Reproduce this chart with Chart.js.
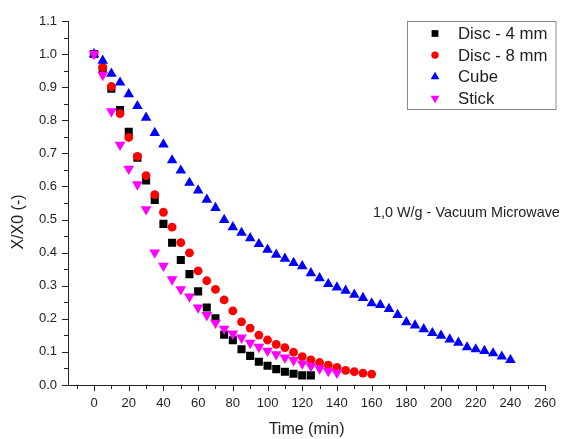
<!DOCTYPE html>
<html>
<head>
<meta charset="utf-8">
<title>X/X0 vs time - vacuum microwave drying</title>
<script src="https://cdn.jsdelivr.net/npm/chart.js@4"></script>
<style>
  html, body { margin: 0; padding: 0; background: #fff; }
  canvas { display: block; }
</style>
</head>
<body>
<canvas id="c" width="567" height="439"></canvas>
<script>
const FONT = '"Liberation Sans", Arial, Helvetica, sans-serif';
const INK = '#222';

// sampling times (min) per sample shape
const tDisc4 = [0, 5, 10, 15, 20, 25, 30, 35, 40, 45, 50, 55, 60, 65, 70, 75, 80, 85, 90, 95, 100, 105, 110, 115, 120, 125];
const tDisc8 = [0, 5, 10, 15, 20, 25, 30, 35, 40, 45, 50, 55, 60, 65, 70, 75, 80, 85, 90, 95, 100, 105, 110, 115, 120, 125, 130, 135, 140, 145, 150, 155, 160];
const tCube = [0, 5, 10, 15, 20, 25, 30, 35, 40, 45, 50, 55, 60, 65, 70, 75, 80, 85, 90, 95, 100, 105, 110, 115, 120, 125, 130, 135, 140, 145, 150, 155, 160, 165, 170, 175, 180, 185, 190, 195, 200, 205, 210, 215, 220, 225, 230, 235, 240];
const tStick = [0, 5, 10, 15, 20, 25, 30, 35, 40, 45, 50, 55, 60, 65, 70, 75, 80, 85, 90, 95, 100, 105, 110, 115, 120, 125, 130, 135, 140];

// moisture ratio X/X0
const xDisc4 = [1.0, 0.955, 0.895, 0.831, 0.765, 0.687, 0.618, 0.559, 0.487, 0.430, 0.378, 0.335, 0.283, 0.234, 0.202, 0.152, 0.135, 0.108, 0.088, 0.070, 0.058, 0.048, 0.040, 0.034, 0.029, 0.029];
const xDisc8 = [1.0, 0.960, 0.902, 0.820, 0.748, 0.691, 0.633, 0.575, 0.522, 0.477, 0.430, 0.399, 0.345, 0.315, 0.289, 0.257, 0.224, 0.191, 0.172, 0.151, 0.136, 0.123, 0.113, 0.099, 0.086, 0.076, 0.068, 0.060, 0.053, 0.044, 0.040, 0.036, 0.033];
const xCube = [1.0, 0.980, 0.941, 0.914, 0.879, 0.843, 0.808, 0.762, 0.727, 0.679, 0.648, 0.611, 0.588, 0.560, 0.535, 0.499, 0.477, 0.460, 0.444, 0.426, 0.409, 0.394, 0.382, 0.369, 0.359, 0.338, 0.323, 0.305, 0.295, 0.285, 0.273, 0.263, 0.247, 0.242, 0.230, 0.212, 0.190, 0.180, 0.169, 0.157, 0.149, 0.138, 0.128, 0.114, 0.108, 0.103, 0.096, 0.086, 0.076];
const xStick = [1.0, 0.937, 0.827, 0.726, 0.653, 0.606, 0.531, 0.400, 0.360, 0.319, 0.289, 0.267, 0.234, 0.211, 0.188, 0.170, 0.155, 0.143, 0.127, 0.115, 0.103, 0.093, 0.083, 0.075, 0.065, 0.057, 0.050, 0.042, 0.037];

// axis ticks
const xLabels = [0, 20, 40, 60, 80, 100, 120, 140, 160, 180, 200, 220, 240, 260];
const xMinor = [-10, 10, 30, 50, 70, 90, 110, 130, 150, 170, 190, 210, 230, 250];
const yLabels = [0.0, 0.1, 0.2, 0.3, 0.4, 0.5, 0.6, 0.7, 0.8, 0.9, 1.0, 1.1];
const yMinor = [0.05, 0.15, 0.25, 0.35, 0.45, 0.55, 0.65, 0.75, 0.85, 0.95, 1.05];

const zip = (ts, vs) => ts.map((t, i) => ({ x: t, y: vs[i] }));

const series = [
  { label: 'Disc - 4 mm', t: tDisc4, v: xDisc4, color: '#000000', style: 'rect', rot: 0, r: 5.7, lr: 4.8, order: 4 },
  { label: 'Disc - 8 mm', t: tDisc8, v: xDisc8, color: '#ff0000', style: 'circle', rot: 0, r: 4.4, lr: 3.7, order: 3 },
  { label: 'Cube', t: tCube, v: xCube, color: '#0000ff', style: 'triangle', rot: 0, r: 6.1, lr: 5.0, order: 2 },
  { label: 'Stick', t: tStick, v: xStick, color: '#ff00ff', style: 'triangle', rot: 180, r: 6.2, lr: 5.0, order: 1 },
];

// minor + major tick marks drawn outside the frame
const tickMarks = {
  id: 'tickMarks',
  afterDraw(chart) {
    const { ctx, chartArea: a, scales: { x, y } } = chart;
    ctx.save();
    ctx.strokeStyle = INK;
    ctx.lineWidth = 1;
    ctx.beginPath();
    const xt = (v, len) => {
      const px = Math.round(x.getPixelForValue(v)) + 0.5;
      ctx.moveTo(px, a.bottom); ctx.lineTo(px, a.bottom + len);
    };
    const yt = (v, len) => {
      const py = Math.round(y.getPixelForValue(v)) + 0.5;
      ctx.moveTo(a.left, py); ctx.lineTo(a.left - len, py);
    };
    xLabels.forEach(v => xt(v, 6));
    xMinor.forEach(v => xt(v, 4));
    yLabels.forEach(v => yt(v, 6));
    yMinor.forEach(v => yt(v, 4));
    ctx.stroke();
    ctx.restore();
  }
};

// y title, condition note and boxed legend
const decorations = {
  id: 'decorations',
  afterDraw(chart) {
    const { ctx } = chart;
    ctx.save();
    ctx.fillStyle = INK;

    ctx.font = '16px ' + FONT;
    ctx.textAlign = 'center';
    ctx.textBaseline = 'middle';
    ctx.translate(19, 222);
    ctx.rotate(-Math.PI / 2);
    ctx.fillText('X/X0 (-)', 0, 0);
    ctx.setTransform(1, 0, 0, 1, 0, 0);

    ctx.font = '14.4px ' + FONT;
    ctx.textAlign = 'left';
    ctx.fillText('1,0 W/g - Vacuum Microwave', 373, 213.5);

    ctx.strokeStyle = '#888';
    ctx.lineWidth = 1;
    ctx.strokeRect(407.5, 21.5, 148.5, 88);
    ctx.font = '16.8px ' + FONT;
    series.forEach((s, i) => {
      const yy = 33.5 + i * 21.6;
      ctx.fillStyle = s.color;
      Chart.helpers.drawPoint(ctx, { pointStyle: s.style, rotation: s.rot, radius: s.lr, borderWidth: 0 }, 435, yy);
      ctx.fillStyle = INK;
      ctx.fillText(s.label, 458, yy + 1);
    });
    ctx.restore();
  }
};

new Chart(document.getElementById('c'), {
  type: 'scatter',
  data: {
    datasets: series.map(s => ({
      label: s.label,
      data: zip(s.t, s.v),
      order: s.order,
      pointStyle: s.style,
      rotation: s.rot,
      radius: s.r,
      hoverRadius: s.r,
      backgroundColor: s.color,
      borderColor: s.color,
      borderWidth: 0,
    }))
  },
  options: {
    responsive: false,
    animation: false,
    layout: { padding: { top: 21, right: 10, left: 0, bottom: 0 } },
    plugins: { legend: { display: false }, tooltip: { enabled: false } },
    scales: {
      x: {
        type: 'linear',
        min: -15,
        max: 260,
        afterBuildTicks: s => { s.ticks = xLabels.map(v => ({ value: v })); },
        afterFit: s => { s.height = 54; },
        grid: { display: true, drawOnChartArea: false, drawTicks: false },
        border: { display: true, color: INK, width: 1 },
        ticks: { color: INK, font: { family: FONT, size: 13 }, padding: 11, maxRotation: 0 },
        title: { display: true, text: 'Time (min)', color: INK, font: { family: FONT, size: 16 }, padding: { top: 0, bottom: 0 } },
      },
      y: {
        type: 'linear',
        min: 0,
        max: 1.1,
        afterBuildTicks: s => { s.ticks = yLabels.map(v => ({ value: v })); },
        afterFit: s => { s.width = 68; },
        grid: { display: true, drawOnChartArea: false, drawTicks: false },
        border: { display: true, color: INK, width: 1 },
        ticks: { color: INK, font: { family: FONT, size: 13 }, padding: 11, callback: v => v.toFixed(1) },
      }
    }
  },
  plugins: [tickMarks, decorations]
});
</script>
</body>
</html>
